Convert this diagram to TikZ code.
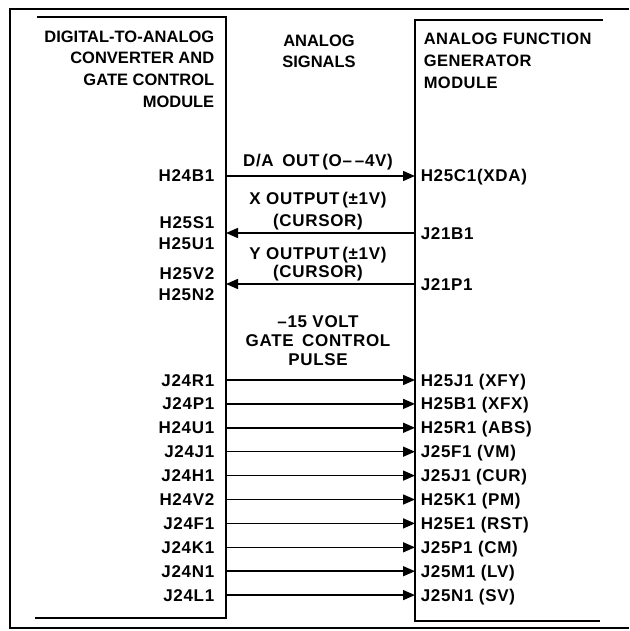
\documentclass[tikz,border=0pt]{standalone}
\usepackage{fontspec}
\setmainfont{Liberation Sans}
\usetikzlibrary{arrows.meta}

\begin{document}
\begin{tikzpicture}[x=1pt,y=-1pt,>={Triangle[length=12pt,width=10pt]},line width=1.5pt,
    font=\bfseries\fontsize{16.5}{21.7}\selectfont]
  \tikzset{frame/.style={line width=2.6pt},
           module/.style={line width=2.4pt},
           pinfont/.style={font=\bfseries\fontsize{17}{20.5}\selectfont\addfontfeature{LetterSpace=4}},
           lpin/.style={pinfont,anchor=east,inner xsep=11pt,inner ysep=0pt,text height=12pt,text depth=0pt},
           lpair/.style={pinfont,anchor=east,inner xsep=11pt,inner ysep=0pt,align=right},
           rpin/.style={pinfont,anchor=west,inner xsep=5pt,inner ysep=0pt,text height=12pt,text depth=0pt},
           title/.style={inner sep=0pt},
           signal/.style={inner sep=0pt,align=center}}
  \useasboundingbox (0,0) rectangle (629,631);
  % outer frame, open on the right
  \draw[frame] (629,9) -- (10,9) -- (10,628) -- (629,628);
  % the two modules
  \draw[module] (37,17) -- (226,17) -- (226,618) -- (35,618);
  \draw[module] (603,20) -- (415,20) -- (415,621) -- (600,621);
  \node[title,anchor=north east,align=right] (dac) at (215,30) {DIGITAL-TO-ANALOG\\CONVERTER AND\\GATE CONTROL\\MODULE};
  \node[title,anchor=north,align=center] (sig) at (319,34) {ANALOG\\SIGNALS};
  \node[title,anchor=north west,align=left,font=\bfseries\fontsize{16.5}{22}\selectfont\addfontfeature{LetterSpace=3}] (afg) at (423,32) {ANALOG FUNCTION\\GENERATOR\\MODULE};
  % analog signals
  \node[signal,pinfont,text height=12pt,text depth=0pt] (da) at (318,161) {D/A\enspace OUT\,(O--\,--4V)};
  \node[lpin] (dal) at (226,176) {H24B1};
  \node[rpin] (dar) at (415,176) {H25C1(XDA)};
  \draw[->] (dal.east) -- (dar.west);
  \node[signal,anchor=north,font=\bfseries\fontsize{17}{22.5}\selectfont\addfontfeature{LetterSpace=4}] (xo) at (318,191) {X OUTPUT\,(±1V)\\(CURSOR)};
  \node[lpair] (xl) at (226,233) {H25S1\\H25U1};
  \node[rpin] (xr) at (415,233) {J21B1};
  \draw[->] (xr.west) -- (xl.east);
  \node[signal,anchor=north,font=\bfseries\fontsize{17}{18}\selectfont\addfontfeature{LetterSpace=4}] (yo) at (318,246) {Y OUTPUT\,(±1V)\\(CURSOR)};
  \node[lpair] (yl) at (226,284) {H25V2\\H25N2};
  \node[rpin] (yr) at (415,284) {J21P1};
  \draw[->] (yr.west) -- (yl.east);
  % gate control pulses
  \node[signal,anchor=north,font=\bfseries\fontsize{17}{19}\selectfont\addfontfeature{LetterSpace=4}] (gate) at (318,315) {--15 VOLT\\GATE\enspace CONTROL\\PULSE};
  \foreach \l/\r [count=\i from 0] in {J24R1/H25J1 (XFY),J24P1/H25B1 (XFX),H24U1/H25R1 (ABS),J24J1/J25F1 (VM),
      J24H1/J25J1 (CUR),H24V2/H25K1 (PM),J24F1/H25E1 (RST),J24K1/J25P1 (CM),J24N1/J25M1 (LV),J24L1/J25N1 (SV)}{
    \node[lpin] (g\i l) at (226,{380+23.9*\i}) {\l};
    \node[rpin] (g\i r) at (415,{380+23.9*\i}) {\r};
    \draw[->] (g\i l.east) -- (g\i r.west);}
\end{tikzpicture}
\end{document}
